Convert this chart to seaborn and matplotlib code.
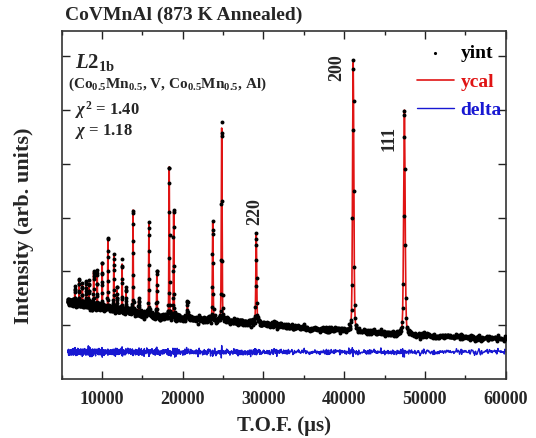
import numpy as np
import pandas as pd
import matplotlib
matplotlib.use("Agg")
import matplotlib.pyplot as plt
import seaborn as sns

# Bragg reflections: position (TOF, us) and apex intensity
peak_tof = [6626, 7155, 7561, 8054, 8387, 8965, 9409, 10024, 10727, 11465,
            11835, 12488, 12980, 13842, 14544, 15813, 16798, 18325, 18879,
            20579, 23719, 24828, 29113, 41120, 47463]
peak_top = [1651, 1855, 1781, 1805, 1781, 1991, 1967, 2158, 2580, 2283,
            1651, 2134, 1651, 3138, 1483, 2915, 1991, 3937, 3110,
            1446, 2896, 4662, 2673, 5880, 4997]

# Background level along the pattern
bg_tof = [5800, 6010, 10111, 16626, 22783, 28941, 35343, 40885, 47042, 58126, 60000]
bg_int = [1450, 1430, 1330, 1160, 1105, 1043, 940, 895, 830, 750, 740]

# Indexed reflections
hkl_labels = ["200", "111", "220"]
hkl_tof = [39051, 45577, 28952]
hkl_y = [5796, 4476, 3119]

x_ticks = [10000, 20000, 30000, 40000, 50000, 60000]
y_ticks = [1000, 2000, 3000, 4000, 5000, 6000]
delta_offset = 500

# ---- profile model -------------------------------------------------------
def pseudo_voigt(t, t0, fwhm, eta=0.3):
    x = (t - t0) / fwhm
    return eta / (1 + 4 * x ** 2) + (1 - eta) * np.exp(-4 * np.log(2) * x ** 2)

tof = 5800 * 1.0012 ** np.arange(2000)
tof = np.union1d(tof[tof <= 60000], peak_tof)
background = np.interp(tof, bg_tof, bg_int)
ycal = background.copy()
for t0, top in zip(peak_tof, peak_top):
    amp = top - np.interp(t0, bg_tof, bg_int)
    ycal += amp * pseudo_voigt(tof, t0, 0.0045 * t0)

rng = np.random.default_rng(11)
yint = ycal + rng.normal(0.0, 0.85 * np.sqrt(ycal))
delta = yint - ycal + delta_offset

df = pd.DataFrame({"tof": tof, "yint": yint, "ycal": ycal, "delta": delta})

# ---- styling -------------------------------------------------------------
sns.set_style("ticks")
plt.rcParams["font.family"] = ["Liberation Serif", "DejaVu Serif"]
plt.rcParams["font.weight"] = "bold"
plt.rcParams["axes.labelweight"] = "bold"
plt.rcParams["mathtext.fontset"] = "custom"
plt.rcParams["mathtext.rm"] = "Liberation Serif:bold"
plt.rcParams["mathtext.it"] = "Liberation Serif:italic:bold"
plt.rcParams["mathtext.bf"] = "Liberation Serif:bold"

fig = plt.figure(figsize=(5.36, 4.38), dpi=100)
ax = fig.add_axes([0.115, 0.135, 0.829, 0.795])

red = "#e01414"
blue = "#1818d2"
sns.lineplot(data=df, x="tof", y="ycal", color=red, lw=1.2, ax=ax,
             label="ycal", estimator=None, sort=False, zorder=2)
sns.scatterplot(data=df, x="tof", y="yint", color="black", s=8, marker="o",
                linewidth=0, ax=ax, label="yint", zorder=3)
sns.lineplot(data=df, x="tof", y="delta", color=blue, lw=1.0, ax=ax,
             label="delta", estimator=None, sort=False, zorder=2)

ax.set_xlim(5400, 60050)
ax.set_ylim(0, 6474)
ax.set_xticks(x_ticks)
ax.set_xticklabels([str(v) for v in x_ticks])
ax.set_xticks(np.arange(5000, 60001, 5000), minor=True)
ax.set_yticks(y_ticks)
ax.set_yticklabels([])
ax.tick_params(axis="both", which="both", direction="in", top=True, right=True,
               width=1.0, color="#222222")
ax.tick_params(axis="both", which="major", length=6)
ax.tick_params(axis="both", which="minor", length=3)
ax.tick_params(axis="x", labelsize=13, pad=9)
for lab in ax.get_xticklabels():
    lab.set_fontweight("bold")
for sp in ax.spines.values():
    sp.set_linewidth(1.2)
    sp.set_color("#333333")

ax.set_xlabel("T.O.F. (\u03bcs)", fontsize=15, fontweight="bold")
ax.xaxis.set_label_coords(0.5, -0.135)
ax.xaxis.label.set_va("center")
ax.set_ylabel("Intensity (arb. units)", fontsize=16, fontweight="bold")
ax.yaxis.set_label_coords(-0.085, 0.44)
ax.yaxis.label.set_va("center")

fig.text(0.121, 0.966, "CoVMnAl (873 K Annealed)", fontsize=14,
         fontweight="bold", ha="left", va="center")

ax.text(0.030, 0.892, r"$\mathit{L2}_{\mathrm{1b}}$", transform=ax.transAxes,
        fontsize=15, ha="left", va="baseline")
ax.text(0.014, 0.835,
        r"(Co$_{0.5}$Mn$_{0.5}$, V, Co$_{0.5}$Mn$_{0.5}$, Al)",
        transform=ax.transAxes, fontsize=11, fontweight="bold",
        ha="left", va="baseline")
ax.text(0.030, 0.760, r"$\chi^{\mathrm{2}}$ = 1.40", transform=ax.transAxes,
        fontsize=12, fontweight="bold", ha="left", va="baseline")
ax.text(0.030, 0.700, r"$\chi$ = 1.18", transform=ax.transAxes,
        fontsize=12, fontweight="bold", ha="left", va="baseline")

for lab, xt, yt in zip(hkl_labels, hkl_tof, hkl_y):
    ax.text(xt, yt, lab, rotation=90, fontsize=13, fontweight="bold",
            ha="center", va="center")

handles, labels = ax.get_legend_handles_labels()
order = [labels.index(n) for n in ["yint", "ycal", "delta"]]
leg = ax.legend([handles[i] for i in order], [labels[i] for i in order],
                loc="upper right", bbox_to_anchor=(0.99, 0.96),
                frameon=False, fontsize=14, handlelength=1.95,
                handletextpad=0.3, labelspacing=0.55, borderaxespad=0,
                borderpad=0, markerscale=0.8)
for txt, col in zip(leg.get_texts(), ["black", red, blue]):
    txt.set_color(col)
    txt.set_fontweight("bold")

fig.savefig("out.png", dpi=100)
